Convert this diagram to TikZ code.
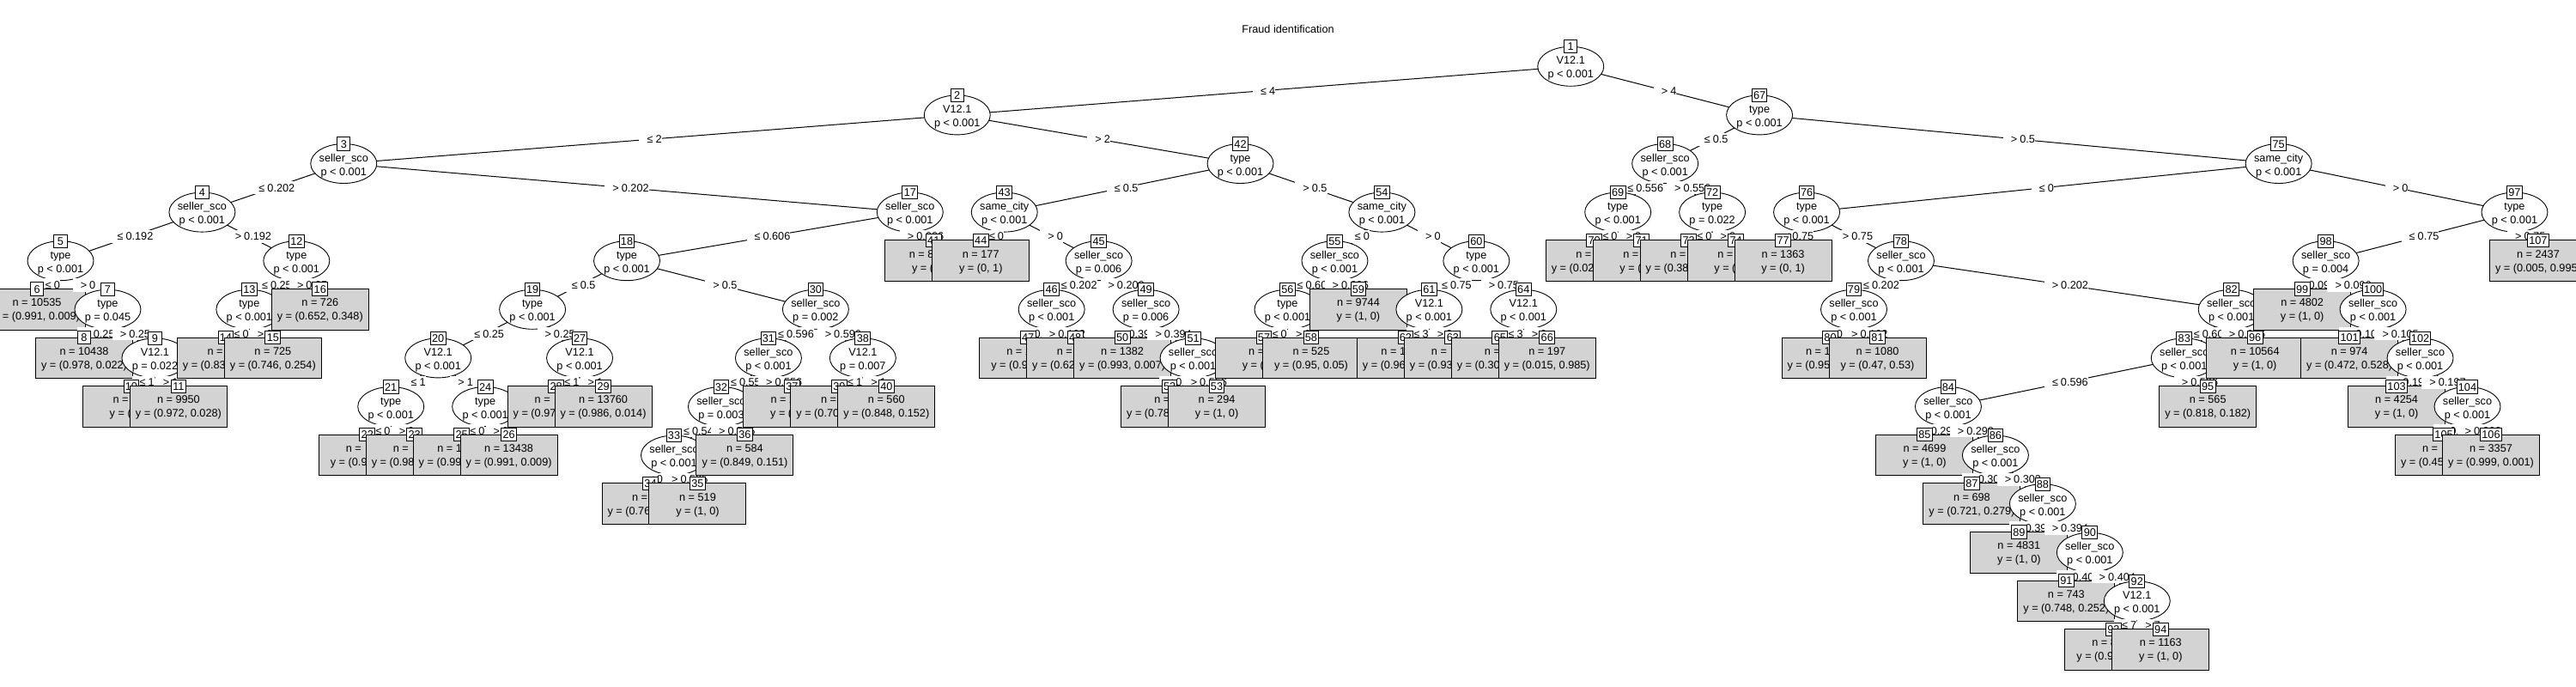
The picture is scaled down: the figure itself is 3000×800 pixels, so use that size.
\documentclass[tikz,border=0pt]{standalone}
\usepackage{fontspec}
\setmainfont{Liberation Sans}
\usetikzlibrary{calc,shapes.geometric}
\definecolor{lgray}{HTML}{D3D3D3}
\newcommand\fs{\fontsize{12.7}{15.2}\selectfont}
\newcommand\plc[3]{\coordinate (c#1) at ({15.56+#2*54.96},{77.3+(#3-1)*56.6});}
\newcommand\edg[2]{\draw[conn] (c#1) -- (c#2);}
\newcommand\inn[3]{\node[ell] (n#1) at (c#1) {};
  \node[txt] at ($(c#1)+(0,-2.4)$) {#2};
  \node[txt] at ($(c#1)+(0,13.6)$) {#3};
  \node[idb] at (n#1.north) {#1};}
\newcommand\lfn[3]{\node[leafb] (n#1) at (c#1) {};
  \node[txt] at ($(c#1)+(0,-3.7)$) {#2};
  \node[txt] at ($(c#1)+(0,12.3)$) {#3};
  \node[idb] at (n#1.north) {#1};}
\newcommand\elab[3]{\node[elbl] at ($(c#1)!0.5!(c#2)$) {#3};}
\newcommand\sle[1]{\phantom{0}\kern2pt≤\kern3pt#1}
\newcommand\sgt[1]{\phantom{0}\kern2pt>\kern3pt#1}
\newcommand\ph[1]{\phantom{#1}}
\tikzset{
  conn/.style={line width=1pt, black},
  ell/.style={ellipse, draw, fill=white, line width=0.9pt, minimum width=77pt, minimum height=46pt, inner sep=0pt, outer sep=0pt},
  leafb/.style={rectangle, draw, fill=lgray, line width=1pt, minimum width=113pt, minimum height=47.6pt, inner sep=0pt, outer sep=0pt},
  idb/.style={rectangle, draw, fill=white, line width=1pt, minimum width=15.2pt, minimum height=15.2pt, inner xsep=1.8pt, inner ysep=0pt, text height=9.1pt, text depth=0pt, font=\fs},
  txt/.style={anchor=base, inner sep=0pt, font=\fs},
  elbl/.style={fill=white, inner sep=0pt, minimum height=15.2pt, text height=9.1pt, text depth=0pt, font=\fs},
}
\begin{document}
\begin{tikzpicture}[x=1pt,y=-1pt]
\useasboundingbox (0,0) rectangle (3000,800);
\fill[white] (0,0) rectangle (3000,800);
\clip (0,0) rectangle (3000,800);
% inner node positions
\plc{1}{33}{1}\plc{2}{20}{2}\plc{67}{37}{2}
\plc{3}{7}{3}\plc{42}{26}{3}\plc{68}{35}{3}\plc{75}{48}{3}
\plc{4}{4}{4}\plc{17}{19}{4}\plc{43}{21}{4}\plc{54}{29}{4}\plc{69}{34}{4}\plc{72}{36}{4}\plc{76}{38}{4}\plc{97}{53}{4}
\plc{5}{1}{5}\plc{12}{6}{5}\plc{18}{13}{5}\plc{45}{23}{5}\plc{55}{28}{5}\plc{60}{31}{5}\plc{78}{40}{5}\plc{98}{49}{5}
\plc{7}{2}{6}\plc{13}{5}{6}\plc{19}{11}{6}\plc{30}{17}{6}\plc{46}{22}{6}\plc{49}{24}{6}\plc{56}{27}{6}\plc{61}{30}{6}\plc{64}{32}{6}\plc{79}{39}{6}\plc{82}{47}{6}\plc{100}{50}{6}
\plc{9}{3}{7}\plc{20}{9}{7}\plc{27}{12}{7}\plc{31}{16}{7}\plc{38}{18}{7}\plc{51}{25}{7}\plc{83}{46}{7}\plc{102}{51}{7}
\plc{21}{8}{8}\plc{24}{10}{8}\plc{32}{15}{8}\plc{84}{41}{8}\plc{104}{52}{8}
\plc{33}{14}{9}\plc{86}{42}{9}\plc{88}{43}{10}\plc{90}{44}{11}\plc{92}{45}{12}
% leaf positions
\plc{6}{0.5}{6}\plc{8}{1.5}{7}\plc{10}{2.5}{8}\plc{11}{3.5}{8}\plc{14}{4.5}{7}\plc{15}{5.5}{7}\plc{16}{6.5}{6}
\plc{22}{7.5}{9}\plc{23}{8.5}{9}\plc{25}{9.5}{9}\plc{26}{10.5}{9}\plc{28}{11.5}{8}\plc{29}{12.5}{8}
\plc{34}{13.5}{10}\plc{35}{14.5}{10}\plc{36}{15.5}{9}\plc{37}{16.5}{8}\plc{39}{17.5}{8}\plc{40}{18.5}{8}
\plc{41}{19.5}{5}\plc{44}{20.5}{5}\plc{47}{21.5}{7}\plc{48}{22.5}{7}\plc{50}{23.5}{7}\plc{52}{24.5}{8}\plc{53}{25.5}{8}
\plc{57}{26.5}{7}\plc{58}{27.5}{7}\plc{59}{28.5}{6}\plc{62}{29.5}{7}\plc{63}{30.5}{7}\plc{65}{31.5}{7}\plc{66}{32.5}{7}
\plc{70}{33.5}{5}\plc{71}{34.5}{5}\plc{73}{35.5}{5}\plc{74}{36.5}{5}\plc{77}{37.5}{5}\plc{80}{38.5}{7}\plc{81}{39.5}{7}
\plc{85}{40.5}{9}\plc{87}{41.5}{10}\plc{89}{42.5}{11}\plc{91}{43.5}{12}\plc{93}{44.5}{13}\plc{94}{45.5}{13}
\plc{95}{46.5}{8}\plc{96}{47.5}{7}\plc{99}{48.5}{6}\plc{101}{49.5}{7}\plc{103}{50.5}{8}\plc{105}{51.5}{9}\plc{106}{52.5}{9}\plc{107}{53.5}{5}
% title
\node[txt] (title) at (1500,38.5) {Fraud identification};
% ---- tree, drawn in plotting order ----
\edg{1}{2}\edg{1}{67}
\inn{1}{V12.1}{p < 0.001}
\elab{1}{2}{\sle{4}}
\edg{2}{3}\edg{2}{42}
\inn{2}{V12.1}{p < 0.001}
\elab{2}{3}{\sle{2}}
\edg{3}{4}\edg{3}{17}
\inn{3}{seller\_sco}{p < 0.001}
\elab{3}{4}{\sle{0.202}}
\edg{4}{5}\edg{4}{12}
\inn{4}{seller\_sco}{p < 0.001}
\elab{4}{5}{\sle{0.192}}
\edg{5}{6}\edg{5}{7}
\inn{5}{type}{p < 0.001}
\elab{5}{6}{\sle{0}}
\lfn{6}{n = 10535}{y = (0.991, 0.009)}
\elab{5}{7}{\sgt{0}}
\edg{7}{8}\edg{7}{9}
\inn{7}{type}{p = 0.045}
\elab{7}{8}{\sle{0.25}}
\lfn{8}{n = 10438}{y = (0.978, 0.022)}
\elab{7}{9}{\sgt{0.25}}
\edg{9}{10}\edg{9}{11}
\inn{9}{V12.1}{p = 0.022}
\elab{9}{10}{\sle{1}}
\lfn{10}{n = \ph{000}}{y = (\ph{1, 0)}}
\elab{9}{11}{\sgt{1}}
\lfn{11}{n = 9950}{y = (0.972, 0.028)}
\elab{4}{12}{\sgt{0.192}}
\edg{12}{13}\edg{12}{16}
\inn{12}{type}{p < 0.001}
\elab{12}{13}{\sle{0.25}}
\edg{13}{14}\edg{13}{15}
\inn{13}{type}{p < 0.001}
\elab{13}{14}{\sle{0}}
\lfn{14}{n = \ph{000}}{y = (0.83\ph{0, 0.170)}}
\elab{13}{15}{\sgt{0}}
\lfn{15}{n = 725}{y = (0.746, 0.254)}
\elab{12}{16}{\sgt{0.25}}
\lfn{16}{n = 726}{y = (0.652, 0.348)}
\elab{3}{17}{\sgt{0.202}}
\edg{17}{18}\edg{17}{41}
\inn{17}{seller\_sco}{p < 0.001}
\elab{17}{18}{\sle{0.606}}
\edg{18}{19}\edg{18}{30}
\inn{18}{type}{p < 0.001}
\elab{18}{19}{\sle{0.5}}
\edg{19}{20}\edg{19}{27}
\inn{19}{type}{p < 0.001}
\elab{19}{20}{\sle{0.25}}
\edg{20}{21}\edg{20}{24}
\inn{20}{V12.1}{p < 0.001}
\elab{20}{21}{\sle{1}}
\edg{21}{22}\edg{21}{23}
\inn{21}{type}{p < 0.001}
\elab{21}{22}{\sle{0}}
\lfn{22}{n = \ph{0000}}{y = (0.9\ph{9, 0.01)}}
\elab{21}{23}{\sgt{0}}
\lfn{23}{n = \ph{0000}}{y = (0.98\ph{0, 0.020)}}
\elab{20}{24}{\sgt{1}}
\edg{24}{25}\edg{24}{26}
\inn{24}{type}{p < 0.001}
\elab{24}{25}{\sle{0}}
\lfn{25}{n = 1\ph{0000}}{y = (0.99\ph{0, 0.010)}}
\elab{24}{26}{\sgt{0}}
\lfn{26}{n = 13438}{y = (0.991, 0.009)}
\elab{19}{27}{\sgt{0.25}}
\edg{27}{28}\edg{27}{29}
\inn{27}{V12.1}{p < 0.001}
\elab{27}{28}{\sle{1}}
\lfn{28}{n = \ph{0000}}{y = (0.97\ph{0, 0.030)}}
\elab{27}{29}{\sgt{1}}
\lfn{29}{n = 13760}{y = (0.986, 0.014)}
\elab{18}{30}{\sgt{0.5}}
\edg{30}{31}\edg{30}{38}
\inn{30}{seller\_sco}{p = 0.002}
\elab{30}{31}{\sle{0.596}}
\edg{31}{32}\edg{31}{37}
\inn{31}{seller\_sco}{p < 0.001}
\elab{31}{32}{\sle{0.556}}
\edg{32}{33}\edg{32}{36}
\inn{32}{seller\_sco}{p = 0.003}
\elab{32}{33}{\sle{0.545}}
\edg{33}{34}\edg{33}{35}
\inn{33}{seller\_sco}{p < 0.001}
\elab{33}{34}{\sle{0.525}}
\lfn{34}{n = \ph{000}}{y = (0.76\ph{0, 0.240)}}
\elab{33}{35}{\sgt{0.525}}
\lfn{35}{n = 519}{y = (1, 0)}
\elab{32}{36}{\sgt{0.545}}
\lfn{36}{n = 584}{y = (0.849, 0.151)}
\elab{31}{37}{\sgt{0.556}}
\lfn{37}{n = 2\ph{000}}{y = (\ph{1, 0)}}
\elab{30}{38}{\sgt{0.596}}
\edg{38}{39}\edg{38}{40}
\inn{38}{V12.1}{p = 0.007}
\elab{38}{39}{\sle{1}}
\lfn{39}{n = \ph{000}}{y = (0.70\ph{0, 0.300)}}
\elab{38}{40}{\sgt{1}}
\lfn{40}{n = 560}{y = (0.848, 0.152)}
\elab{17}{41}{\sgt{0.606}}
\lfn{41}{n = 8\ph{0000}}{y = (\ph{1, 0)}}
\elab{2}{42}{\sgt{2}}
\edg{42}{43}\edg{42}{54}
\inn{42}{type}{p < 0.001}
\elab{42}{43}{\sle{0.5}}
\edg{43}{44}\edg{43}{45}
\inn{43}{same\_city}{p < 0.001}
\elab{43}{44}{\sle{0}}
\lfn{44}{n = 177}{y = (0, 1)}
\elab{43}{45}{\sgt{0}}
\edg{45}{46}\edg{45}{49}
\inn{45}{seller\_sco}{p = 0.006}
\elab{45}{46}{\sle{0.202}}
\edg{46}{47}\edg{46}{48}
\inn{46}{seller\_sco}{p < 0.001}
\elab{46}{47}{\sle{0.192}}
\lfn{47}{n = 1\ph{000}}{y = (0.9\ph{9, 0.01)}}
\elab{46}{48}{\sgt{0.192}}
\lfn{48}{n = \ph{000}}{y = (0.62\ph{0, 0.380)}}
\elab{45}{49}{\sgt{0.202}}
\edg{49}{50}\edg{49}{51}
\inn{49}{seller\_sco}{p = 0.006}
\elab{49}{50}{\sle{0.394}}
\lfn{50}{n = 1382}{y = (0.993, 0.007)}
\elab{49}{51}{\sgt{0.394}}
\edg{51}{52}\edg{51}{53}
\inn{51}{seller\_sco}{p < 0.001}
\elab{51}{52}{\sle{0.556}}
\lfn{52}{n = \ph{00}}{y = (0.78\ph{0, 0.220)}}
\elab{51}{53}{\sgt{0.556}}
\lfn{53}{n = 294}{y = (1, 0)}
\elab{42}{54}{\sgt{0.5}}
\edg{54}{55}\edg{54}{60}
\inn{54}{same\_city}{p < 0.001}
\elab{54}{55}{\sle{0}}
\edg{55}{56}\edg{55}{59}
\inn{55}{seller\_sco}{p < 0.001}
\elab{55}{56}{\sle{0.606}}
\edg{56}{57}\edg{56}{58}
\inn{56}{type}{p < 0.001}
\elab{56}{57}{\sle{0}}
\lfn{57}{n = \ph{00}}{y = (\ph{1, 0)}}
\elab{56}{58}{\sgt{0}}
\lfn{58}{n = 525}{y = (0.95, 0.05)}
\elab{55}{59}{\sgt{0.606}}
\lfn{59}{n = 9744}{y = (1, 0)}
\elab{54}{60}{\sgt{0}}
\edg{60}{61}\edg{60}{64}
\inn{60}{type}{p < 0.001}
\elab{60}{61}{\sle{0.75}}
\edg{61}{62}\edg{61}{63}
\inn{61}{V12.1}{p < 0.001}
\elab{61}{62}{\sle{3}}
\lfn{62}{n = 1\ph{0000}}{y = (0.96\ph{0, 0.040)}}
\elab{61}{63}{\sgt{3}}
\lfn{63}{n = \ph{0000}}{y = (0.93\ph{0, 0.070)}}
\elab{60}{64}{\sgt{0.75}}
\edg{64}{65}\edg{64}{66}
\inn{64}{V12.1}{p < 0.001}
\elab{64}{65}{\sle{3}}
\lfn{65}{n = \ph{00}}{y = (0.30\ph{0, 0.700)}}
\elab{64}{66}{\sgt{3}}
\lfn{66}{n = 197}{y = (0.015, 0.985)}
\elab{1}{67}{\sgt{4}}
\edg{67}{68}\edg{67}{75}
\inn{67}{type}{p < 0.001}
\elab{67}{68}{\sle{0.5}}
\edg{68}{69}\edg{68}{72}
\inn{68}{seller\_sco}{p < 0.001}
\elab{68}{69}{\sle{0.556}}
\edg{69}{70}\edg{69}{71}
\inn{69}{type}{p < 0.001}
\elab{69}{70}{\sle{0}}
\lfn{70}{n = \ph{000}}{y = (0.02\ph{0, 0.980)}}
\elab{69}{71}{\sgt{0}}
\lfn{71}{n = \ph{000}}{y = (\ph{1, 0)}}
\elab{68}{72}{\sgt{0.556}}
\edg{72}{73}\edg{72}{74}
\inn{72}{type}{p = 0.022}
\elab{72}{73}{\sle{0}}
\lfn{73}{n = \ph{000}}{y = (0.38\ph{0, 0.620)}}
\elab{72}{74}{\sgt{0}}
\lfn{74}{n = \ph{000}}{y = (\ph{1, 0)}}
\elab{67}{75}{\sgt{0.5}}
\edg{75}{76}\edg{75}{97}
\inn{75}{same\_city}{p < 0.001}
\elab{75}{76}{\sle{0}}
\edg{76}{77}\edg{76}{78}
\inn{76}{type}{p < 0.001}
\elab{76}{77}{\sle{0.75}}
\lfn{77}{n = 1363}{y = (0, 1)}
\elab{76}{78}{\sgt{0.75}}
\edg{78}{79}\edg{78}{82}
\inn{78}{seller\_sco}{p < 0.001}
\elab{78}{79}{\sle{0.202}}
\edg{79}{80}\edg{79}{81}
\inn{79}{seller\_sco}{p < 0.001}
\elab{79}{80}{\sle{0.192}}
\lfn{80}{n = 1\ph{0000}}{y = (0.95\ph{0, 0.050)}}
\elab{79}{81}{\sgt{0.192}}
\lfn{81}{n = 1080}{y = (0.47, 0.53)}
\elab{78}{82}{\sgt{0.202}}
\edg{82}{83}\edg{82}{96}
\inn{82}{seller\_sco}{p < 0.001}
\elab{82}{83}{\sle{0.606}}
\edg{83}{84}\edg{83}{95}
\inn{83}{seller\_sco}{p < 0.001}
\elab{83}{84}{\sle{0.596}}
\edg{84}{85}\edg{84}{86}
\inn{84}{seller\_sco}{p < 0.001}
\elab{84}{85}{\sle{0.293}}
\lfn{85}{n = 4699}{y = (1, 0)}
\elab{84}{86}{\sgt{0.293}}
\edg{86}{87}\edg{86}{88}
\inn{86}{seller\_sco}{p < 0.001}
\elab{86}{87}{\sle{0.303}}
\lfn{87}{n = 698}{y = (0.721, 0.279)}
\elab{86}{88}{\sgt{0.303}}
\edg{88}{89}\edg{88}{90}
\inn{88}{seller\_sco}{p < 0.001}
\elab{88}{89}{\sle{0.394}}
\lfn{89}{n = 4831}{y = (1, 0)}
\elab{88}{90}{\sgt{0.394}}
\edg{90}{91}\edg{90}{92}
\inn{90}{seller\_sco}{p < 0.001}
\elab{90}{91}{\sle{0.404}}
\lfn{91}{n = 743}{y = (0.748, 0.252)}
\elab{90}{92}{\sgt{0.404}}
\edg{92}{93}\edg{92}{94}
\inn{92}{V12.1}{p < 0.001}
\elab{92}{93}{\sle{7}}
\lfn{93}{n = 8\ph{000}}{y = (0.9\ph{9, 0.01)}}
\elab{92}{94}{\sgt{7}}
\lfn{94}{n = 1163}{y = (1, 0)}
\elab{83}{95}{\sgt{0.596}}
\lfn{95}{n = 565}{y = (0.818, 0.182)}
\elab{82}{96}{\sgt{0.606}}
\lfn{96}{n = 10564}{y = (1, 0)}
\elab{75}{97}{\sgt{0}}
\edg{97}{98}\edg{97}{107}
\inn{97}{type}{p < 0.001}
\elab{97}{98}{\sle{0.75}}
\edg{98}{99}\edg{98}{100}
\inn{98}{seller\_sco}{p = 0.004}
\elab{98}{99}{\sle{0.096}}
\lfn{99}{n = 4802}{y = (1, 0)}
\elab{98}{100}{\sgt{0.096}}
\edg{100}{101}\edg{100}{102}
\inn{100}{seller\_sco}{p < 0.001}
\elab{100}{101}{\sle{0.105}}
\lfn{101}{n = 974}{y = (0.472, 0.528)}
\elab{100}{102}{\sgt{0.105}}
\edg{102}{103}\edg{102}{104}
\inn{102}{seller\_sco}{p < 0.001}
\elab{102}{103}{\sle{0.197}}
\lfn{103}{n = 4254}{y = (1, 0)}
\elab{102}{104}{\sgt{0.197}}
\edg{104}{105}\edg{104}{106}
\inn{104}{seller\_sco}{p < 0.001}
\elab{104}{105}{\sle{0.202}}
\lfn{105}{n = \ph{0000}}{y = (0.45\ph{0, 0.550)}}
\elab{104}{106}{\sgt{0.202}}
\lfn{106}{n = 3357}{y = (0.999, 0.001)}
\elab{97}{107}{\sgt{0.75}}
\lfn{107}{n = 2437}{y = (0.005, 0.995)}
\end{tikzpicture}
\end{document}
